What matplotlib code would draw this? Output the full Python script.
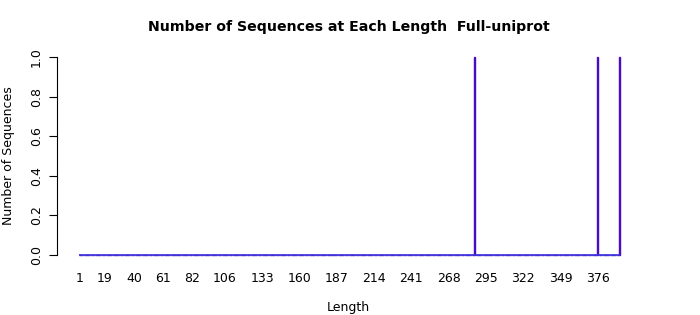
import matplotlib
matplotlib.use("Agg")
import matplotlib.pyplot as plt
import numpy as np

# sequence lengths shown on the axis (1 .. 392) and the ones that have sequences
max_length = 392
hit_lengths = [287, 376, 392]
hit_counts = [1, 1, 1]
tick_labels = [1, 19, 40, 61, 82, 106, 133, 160, 187, 214, 241, 268, 295, 322, 349, 376]

lengths = np.arange(1, max_length + 1)
counts = np.zeros(len(lengths))
for l, c in zip(hit_lengths, hit_counts):
    counts[l - 1] = c

bar_w = 1 / 1.2

fig = plt.figure(figsize=(7, 3.15), dpi=100)
ax = fig.add_axes([57 / 700, 60 / 315, 583 / 700, 198 / 315])

ax.bar(lengths, counts, width=bar_w, color="#4a0bc4", edgecolor="#4a0bc4",
       linewidth=1.0, clip_on=False)
# zero-height bars in R still draw their border, which gives the blue baseline
ax.hlines(0, lengths[0] - bar_w / 2, lengths[-1] + bar_w / 2, color="#3a30dc",
          linewidth=1.2, clip_on=False)

ax.set_xlim(-15.7, 406.6)
ax.set_ylim(0, 1)

for s in ["top", "right", "bottom"]:
    ax.spines[s].set_visible(False)
ax.spines["left"].set_linewidth(0.8)
ax.set_yticks([0, 0.2, 0.4, 0.6, 0.8, 1.0])
ax.set_yticklabels(["0.0", "0.2", "0.4", "0.6", "0.8", "1.0"], rotation=90, va="center")
ax.tick_params(axis="y", length=6, width=0.8, labelsize=9, pad=4)

ax.set_xticks(tick_labels)
ax.set_xticklabels([str(t) for t in tick_labels])
ax.tick_params(axis="x", length=0, labelsize=9, pad=12)

ax.set_ylabel("Number of Sequences", fontsize=9, labelpad=11)
ax.set_xlabel("Length", fontsize=9, labelpad=12)
ax.set_title("Number of Sequences at Each Length  Full-uniprot", fontsize=10.2,
             fontweight="bold", pad=19)

fig.savefig("out.png", dpi=100)
